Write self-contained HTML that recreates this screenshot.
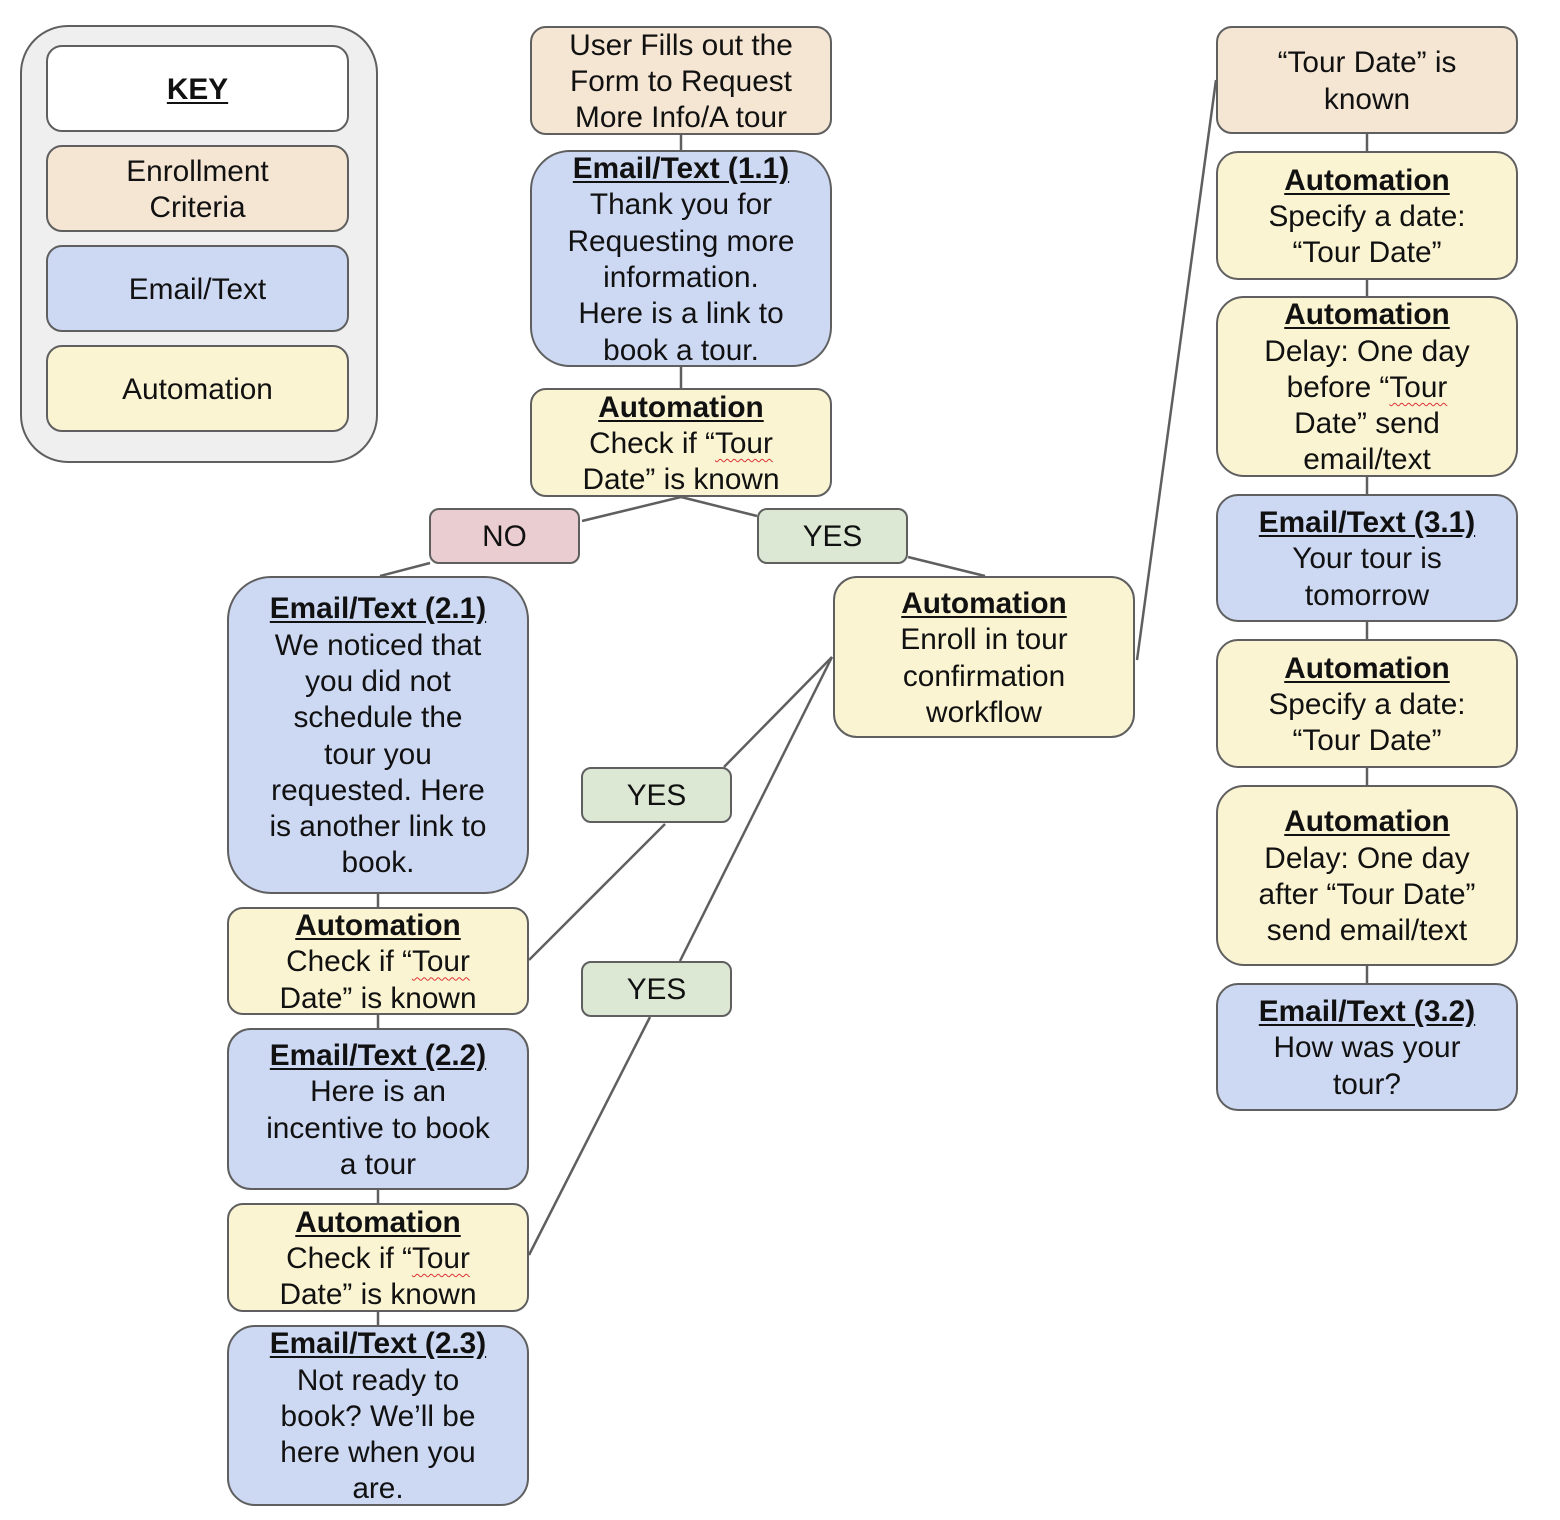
<!DOCTYPE html>
<html><head><meta charset="utf-8"><style>
body{margin:0;width:1560px;height:1520px;background:#fff;position:relative;overflow:hidden;font-family:"Liberation Sans",Arial,sans-serif;color:#111}
.b{position:absolute;box-sizing:border-box;border:2.5px solid #5f5f5f;border-radius:16px;display:flex;justify-content:center;align-items:center;text-align:center;font-size:29.8px;line-height:36.3px;white-space:nowrap}
.b>div{width:100%;padding-top:3px}
.p{background:#f5e6d3}.bl{background:#cdd8f3}.y{background:#faf4d2}.pk{background:#eacdd1}.g{background:#dce8d4}
u{font-weight:bold;text-underline-offset:3px}
.sq{text-decoration:underline wavy #d33;text-decoration-thickness:1px;text-underline-offset:5px}
svg{position:absolute;left:0;top:0}
</style></head><body>
<svg width="1560" height="1520"><g stroke="#5f5f5f" stroke-width="2.5" fill="none">
<line x1="681" y1="135" x2="681" y2="150"/><line x1="681" y1="367" x2="681" y2="388"/>
<line x1="681" y1="497" x2="582" y2="521"/><line x1="681" y1="497" x2="757" y2="516"/>
<line x1="380" y1="576" x2="430" y2="563"/><line x1="908" y1="557" x2="985" y2="576"/>
<line x1="1137" y1="660" x2="1216" y2="80"/>
<line x1="378" y1="894" x2="378" y2="907"/><line x1="378" y1="1015" x2="378" y2="1028"/><line x1="378" y1="1190" x2="378" y2="1203"/><line x1="378" y1="1312" x2="378" y2="1325"/>
<line x1="529" y1="960" x2="665" y2="824"/><line x1="724" y1="767" x2="832" y2="657"/>
<line x1="529" y1="1255" x2="650" y2="1017"/><line x1="680" y1="961" x2="832" y2="657"/>
<line x1="1367" y1="134" x2="1367" y2="151"/><line x1="1367" y1="280" x2="1367" y2="296"/><line x1="1367" y1="477" x2="1367" y2="494"/><line x1="1367" y1="622" x2="1367" y2="639"/><line x1="1367" y1="768" x2="1367" y2="785"/><line x1="1367" y1="966" x2="1367" y2="983"/>
</g></svg>
<div class="b" style="left:20px;top:25px;width:358px;height:438px;border-radius:48px;background:#efefef"></div>
<div class="b" style="left:46px;top:45px;width:303px;height:87px;background:#fff"><div><u>KEY</u></div></div>
<div class="b p" style="left:46px;top:145px;width:303px;height:87px"><div>Enrollment<br>Criteria</div></div>
<div class="b bl" style="left:46px;top:245px;width:303px;height:87px"><div>Email/Text</div></div>
<div class="b y" style="left:46px;top:345px;width:303px;height:87px"><div>Automation</div></div>

<div class="b p" style="left:530px;top:26px;width:302px;height:109px"><div>User Fills out the<br>Form to Request<br>More Info/A tour</div></div>
<div class="b bl" style="left:530px;top:150px;width:302px;height:217px;border-radius:40px"><div><u>Email/Text (1.1)</u><br>Thank you for<br>Requesting more<br>information.<br>Here is a link to<br>book a tour.</div></div>
<div class="b y" style="left:530px;top:388px;width:302px;height:109px"><div><u>Automation</u><br>Check if “<span class="sq">Tour</span><br>Date” is known</div></div>
<div class="b pk" style="left:429px;top:508px;width:151px;height:56px;border-radius:10px"><div>NO</div></div>
<div class="b g" style="left:757px;top:508px;width:151px;height:56px;border-radius:10px"><div>YES</div></div>

<div class="b bl" style="left:227px;top:576px;width:302px;height:318px;border-radius:44px"><div><u>Email/Text (2.1)</u><br>We noticed that<br>you did not<br>schedule the<br>tour you<br>requested. Here<br>is another link to<br>book.</div></div>
<div class="b y" style="left:227px;top:907px;width:302px;height:108px"><div><u>Automation</u><br>Check if “<span class="sq">Tour</span><br>Date” is known</div></div>
<div class="b bl" style="left:227px;top:1028px;width:302px;height:162px;border-radius:24px"><div><u>Email/Text (2.2)</u><br>Here is an<br>incentive to book<br>a tour</div></div>
<div class="b y" style="left:227px;top:1203px;width:302px;height:109px"><div><u>Automation</u><br>Check if “<span class="sq">Tour</span><br>Date” is known</div></div>
<div class="b bl" style="left:227px;top:1325px;width:302px;height:181px;border-radius:28px"><div><u>Email/Text (2.3)</u><br>Not ready to<br>book? We’ll be<br>here when you<br>are.</div></div>
<div class="b g" style="left:581px;top:767px;width:151px;height:56px;border-radius:10px"><div>YES</div></div>
<div class="b g" style="left:581px;top:961px;width:151px;height:56px;border-radius:10px"><div>YES</div></div>
<div class="b y" style="left:833px;top:576px;width:302px;height:162px;border-radius:24px"><div><u>Automation</u><br>Enroll in tour<br>confirmation<br>workflow</div></div>

<div class="b p" style="left:1216px;top:26px;width:302px;height:108px"><div>“Tour Date” is<br>known</div></div>
<div class="b y" style="left:1216px;top:151px;width:302px;height:129px;border-radius:22px"><div><u>Automation</u><br>Specify a date:<br>“Tour Date”</div></div>
<div class="b y" style="left:1216px;top:296px;width:302px;height:181px;border-radius:28px"><div><u>Automation</u><br>Delay: One day<br>before “<span class="sq">Tour</span><br>Date” send<br>email/text</div></div>
<div class="b bl" style="left:1216px;top:494px;width:302px;height:128px;border-radius:22px"><div><u>Email/Text (3.1)</u><br>Your tour is<br>tomorrow</div></div>
<div class="b y" style="left:1216px;top:639px;width:302px;height:129px;border-radius:22px"><div><u>Automation</u><br>Specify a date:<br>“Tour Date”</div></div>
<div class="b y" style="left:1216px;top:785px;width:302px;height:181px;border-radius:28px"><div><u>Automation</u><br>Delay: One day<br>after “Tour Date”<br>send email/text</div></div>
<div class="b bl" style="left:1216px;top:983px;width:302px;height:128px;border-radius:22px"><div><u>Email/Text (3.2)</u><br>How was your<br>tour?</div></div>
</body></html>
